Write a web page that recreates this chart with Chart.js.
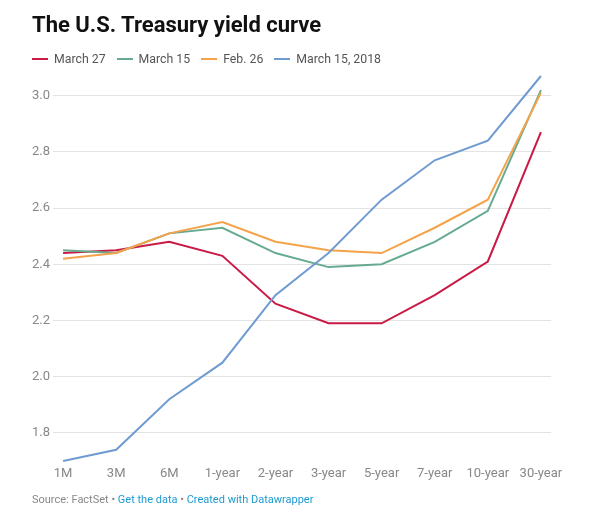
<!DOCTYPE html>
<html>
<head>
<meta charset="utf-8">
<script src="https://cdn.jsdelivr.net/npm/chart.js@4"></script>
<style>
    body { margin: 0; background: #fff; font-family: Roboto, sans-serif; }
    #wrap { position: relative; width: 613px; height: 532px; }
    #yieldChart { position: absolute; left: 0; top: 0; }
    h1 { position: absolute; left: 32px; top: 12px; margin: 0; font-size: 22px; font-weight: 700; color: #111; }
    #legend { position: absolute; left: 32px; top: 52px; font-size: 12.3px; color: #555; display: flex; }
    #legend span.item { display: flex; align-items: center; margin-right: 11px; }
    #legend span.sw { width: 16px; height: 2.5px; margin-right: 6px; display: inline-block; }
    #footer { position: absolute; left: 32px; top: 493px; font-size: 11px; color: #888; }
    #footer a { color: #1d9bd1; text-decoration: none; }
</style>
</head>
<body>
<div id="wrap">
    <canvas id="yieldChart" width="613" height="532"></canvas>
    <h1>The U.S. Treasury yield curve</h1>
    <div id="legend"></div>
    <div id="footer">Source: FactSet • <a>Get the data</a> • <a>Created with Datawrapper</a></div>
</div>
<script>
const maturities = ["1M", "3M", "6M", "1-year", "2-year", "3-year", "5-year", "7-year", "10-year", "30-year"];
const seriesNames = ["March 27", "March 15", "Feb. 26", "March 15, 2018"];
const seriesColors = ["#c91a45", "#66ab90", "#f5a34a", "#6f9bd0"];

const march27 = [2.44, 2.45, 2.48, 2.43, 2.26, 2.19, 2.19, 2.29, 2.41, 2.87];
const march15 = [2.45, 2.44, 2.51, 2.53, 2.44, 2.39, 2.40, 2.48, 2.59, 3.02];
const feb26 = [2.42, 2.44, 2.51, 2.55, 2.48, 2.45, 2.44, 2.53, 2.63, 3.01];
const march15_2018 = [1.70, 1.74, 1.92, 2.05, 2.29, 2.44, 2.63, 2.77, 2.84, 3.07];

const yTicks = [1.8, 2.0, 2.2, 2.4, 2.6, 2.8, 3.0];

const allSeries = [march27, march15, feb26, march15_2018];

// legenda in HTML
const legend = document.getElementById("legend");
seriesNames.forEach((name, i) => {
    const item = document.createElement("span");
    item.className = "item";
    item.innerHTML = '<span class="sw" style="background:' + seriesColors[i] + '"></span>' + name;
    legend.appendChild(item);
});

const datasets = allSeries.map((values, i) => ({
    label: seriesNames[i],
    data: values.map((v, j) => ({ x: j, y: v })),
    borderColor: seriesColors[i],
    backgroundColor: seriesColors[i],
    borderWidth: 2,
    pointRadius: 0,
    tension: 0,
    clip: false
})).reverse();

const ctx = document.getElementById("yieldChart").getContext("2d");
new Chart(ctx, {
    type: 'line',
    data: { datasets: datasets },
    options: {
        responsive: false,
        animation: false,
        layout: { padding: { top: 76, right: 62, left: 0, bottom: 0 } },
        plugins: { legend: { display: false }, tooltip: { enabled: false } },
        scales: {
            x: {
                type: 'linear',
                min: -0.19,
                max: 9.19,
                afterBuildTicks: scale => { scale.ticks = maturities.map((m, i) => ({ value: i })); },
                afterFit: scale => { scale.height = 71; },
                grid: { display: false },
                border: { display: false },
                ticks: {
                    callback: v => maturities[v],
                    color: "#888",
                    font: { family: "Roboto", size: 13 },
                    padding: -3,
                    maxRotation: 0,
                    autoSkip: false
                }
            },
            y: {
                min: 1.7,
                max: 3.07,
                afterBuildTicks: scale => { scale.ticks = yTicks.map(v => ({ value: v })); },
                afterFit: scale => { scale.width = 53; },
                grid: { color: "#e3e3e3", drawTicks: false, lineWidth: 1 },
                border: { display: false },
                ticks: {
                    callback: v => v.toFixed(1),
                    color: "#888",
                    font: { family: "Roboto", size: 13 },
                    padding: 3
                }
            }
        }
    }
});
</script>
</body>
</html>
